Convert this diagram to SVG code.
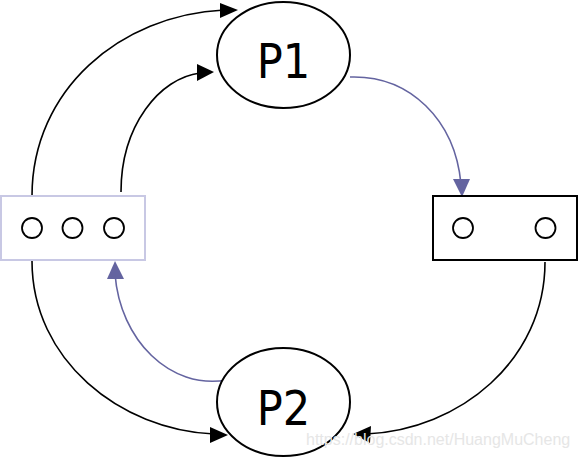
<svg xmlns="http://www.w3.org/2000/svg" width="578" height="458" viewBox="0 0 578 458">
<defs>
<style>
.node{fill:#fff;stroke:#000;stroke-width:2}
.tok{fill:#fff;stroke:#000;stroke-width:1.8}
.lbl{font-family:"DejaVu Sans Condensed","DejaVu Sans",sans-serif;font-stretch:condensed;font-size:48px;fill:#000;text-anchor:middle}
.cb{fill:none;stroke:#000;stroke-width:1.6}
.cp{fill:none;stroke:#6464a0;stroke-width:1.6}
.hb{fill:#000}
.hp{fill:#6464a0}
</style>
</defs>
<rect width="578" height="458" fill="#fff"/>
<g id="connectors">
<path class="cb" d="M32,196 C32,90 120,15 224,10"/>
<path class="cb" d="M121,192 C121,125 160,78 200,73"/>
<path class="cp" d="M350,77 C410,75 455,120 461,184"/>
<path class="cb" d="M545,262 C545,360 460,430 366,434"/>
<path class="cb" d="M32,261 C32,360 120,430 214,434"/>
<path class="cp" d="M227,380 C170,390 120,340 115,274"/>
<polygon class="hb" points="238,10 220,3 220,18"/>
<polygon class="hb" points="214,72 197,64 197,81"/>
<polygon class="hp" points="462,197 453,179 470,179"/>
<polygon class="hb" points="353,434 371,426 370,443"/>
<polygon class="hb" points="228,435 210,427 210,443"/>
<polygon class="hp" points="115,261 107,279 124,279"/>
</g>
<g id="P1">
<ellipse class="node" cx="283.5" cy="55" rx="66.5" ry="53"/>
<text class="lbl" x="283.5" y="78">P1</text>
</g>
<g id="P2">
<ellipse class="node" cx="283.5" cy="402" rx="66.5" ry="54"/>
<text class="lbl" x="283.5" y="425">P2</text>
</g>
<g id="buffer-left">
<rect x="1" y="196" width="144" height="64" fill="#fff" stroke="#c8c8e4" stroke-width="2"/>
<circle class="tok" cx="32" cy="228" r="10"/>
<circle class="tok" cx="72.5" cy="228" r="10"/>
<circle class="tok" cx="114" cy="228" r="10"/>
</g>
<g id="buffer-right">
<rect x="433" y="196" width="144" height="64" fill="#fff" stroke="#000" stroke-width="2"/>
<circle class="tok" cx="463" cy="228" r="10"/>
<circle class="tok" cx="545.5" cy="228" r="10"/>
</g>
<text x="306" y="445" font-family="Liberation Sans, Arial, sans-serif" font-size="16" fill="#e6e6e6">https://blog.csdn.net/HuangMuCheng</text>
</svg>
